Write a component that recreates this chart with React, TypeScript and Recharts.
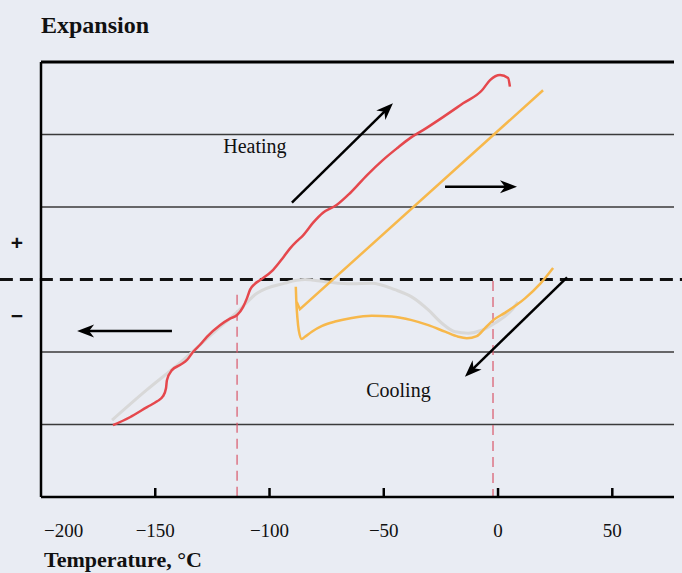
import { LineChart, Line, XAxis, YAxis, ReferenceLine, ReferenceDot } from 'recharts';

// temperature (°C) vs relative expansion
const heatingT = [-168.5, -161.1, -153.6, -149.2, -146.6, -145.3, -144.9, -142.7, -139.2, -136.1, -133.5, -130.4, -127.4, -121.7, -117.3, -114.2, -111.6, -109.9, -108.5, -106.4, -104.2, -98.5, -94.1, -91.0, -88.0, -85.3, -81.0, -76.6, -70.5, -64.8, -57.3, -50.3, -44.2, -38.5, -32.8, -24.1, -15.3, -7.0, -3.5, 0.9, 4.4, 5.2];
const heatingY = [-2.01, -1.90, -1.76, -1.68, -1.61, -1.50, -1.39, -1.25, -1.18, -1.11, -1.00, -0.90, -0.79, -0.63, -0.54, -0.49, -0.38, -0.26, -0.14, -0.06, -0.01, 0.13, 0.30, 0.43, 0.53, 0.61, 0.78, 0.92, 1.03, 1.19, 1.44, 1.65, 1.81, 1.95, 2.06, 2.24, 2.43, 2.61, 2.75, 2.82, 2.78, 2.66];

const coolingT = [-88.5, -88.3, -87.8, -87.2, -85.9, -84.5, -81.5, -77.0, -71.3, -64.0, -55.3, -46.5, -37.8, -30.5, -23.2, -17.4, -13.7, -9.3, -5.7, -2.1, 3.0, 11.8, 18.4, 24.1];
const coolingY = [-0.10, -0.28, -0.53, -0.70, -0.82, -0.79, -0.72, -0.64, -0.58, -0.53, -0.50, -0.51, -0.56, -0.63, -0.72, -0.79, -0.81, -0.78, -0.67, -0.56, -0.46, -0.26, -0.06, 0.16];

const diagT = [-88.1, -86.7, 19.7];
const diagY = [-0.31, -0.41, 2.61];

const refT = [-168.9, -153.6, -139.2, -124.7, -114.2, -105.5, -93.2, -88.0, -84.5, -75.7, -64.0, -55.3, -45.1, -37.8, -30.5, -24.7, -18.8, -13.0, -7.1, -1.3, 6.0, 8.7];
const refY = [-1.94, -1.52, -1.15, -0.74, -0.45, -0.19, -0.05, -0.01, 0.00, -0.03, -0.06, -0.05, -0.14, -0.24, -0.42, -0.60, -0.72, -0.74, -0.70, -0.60, -0.42, -0.31];

const xTicks = [-200, -150, -100, -50, 0, 50];
const gridY = [-2, -1, 1, 2];
const markT = [-114.2, -2.2];
const markTop = [-0.21, -0.02];

// arrows: [x1, y1, x2, y2], head at the second point
const arrows = [
  [-90.2, 1.06, -46.0, 2.43],
  [-23.2, 1.28, 8.3, 1.28],
  [-142.7, -0.71, -184.2, -0.71],
  [30.2, 0.03, -14.5, -1.34],
];

const zip = (xs: number[], ys: number[]) => xs.map((x, i) => ({ x, y: ys[i] }));
const heating = zip(heatingT, heatingY);
const cooling = zip(coolingT, coolingY);
const diag = zip(diagT, diagY);
const reference = zip(refT, refY);

const font = '"Liberation Serif", serif';
const fmt = (v: number) => (v < 0 ? '\u2212' + Math.abs(v) : String(v));

const XTick = (props: any) => {
  const { x, y, payload, index } = props;
  const first = index === 0;
  return (
    <g>
      {!first && <line x1={x} x2={x} y1={y} y2={y - 9} stroke="#000" strokeWidth={2.5} />}
      <text x={first ? x + 3 : x} y={y + 40} textAnchor={first ? 'start' : 'middle'} fontFamily={font} fontSize={19} fill="#111">
        {fmt(payload.value)}
      </text>
    </g>
  );
};

const YTick = (props: any) => {
  const { x, y, payload } = props;
  return (
    <text x={x - 24} y={y + 7} textAnchor="middle" fontFamily='"Liberation Sans", sans-serif' fontSize={21} fontWeight="bold" fill="#111">
      {payload.value > 0 ? '+' : '\u2212'}
    </text>
  );
};

const Arrow = (props: any) => {
  const { x1, y1, x2, y2 } = props;
  const ang = Math.atan2(y2 - y1, x2 - x1);
  const len = 17, half = 6.5, notch = 5;
  const ux = Math.cos(ang), uy = Math.sin(ang);
  const bx = x2 - ux * len, by = y2 - uy * len;
  const px = -uy, py = ux;
  const head = [
    [x2, y2],
    [bx + px * half, by + py * half],
    [x2 - ux * (len - notch), y2 - uy * (len - notch)],
    [bx - px * half, by - py * half],
  ].map((p) => p.join(',')).join(' ');
  return (
    <g>
      <line x1={x1} y1={y1} x2={x2 - ux * 8} y2={y2 - uy * 8} stroke="#000" strokeWidth={2.5} />
      <polygon points={head} fill="#000" />
    </g>
  );
};

const Note = (text: string) => (p: any) => (
  <text x={p.cx} y={p.cy} textAnchor="middle" fontFamily={font} fontSize={20} fill="#111">{text}</text>
);

export default function App() {
  return (
    <div style={{ position: 'absolute', left: 0, top: 0, width: 682, height: 573, background: '#e9ecf3' }}>
      <div style={{ position: 'absolute', left: 41, top: 13, fontFamily: font, fontSize: 24, lineHeight: '24px', fontWeight: 'bold', color: '#111' }}>
        Expansion
      </div>
      <div style={{ position: 'absolute', left: 44, top: 549, fontFamily: font, fontSize: 22, lineHeight: '22px', fontWeight: 'bold', color: '#111' }}>
        Temperature, °C
      </div>
      <LineChart width={682} height={573} margin={{ top: 62, right: 8, bottom: 46, left: 0 }}>
        <XAxis
          type="number"
          dataKey="x"
          domain={[-200, 77]}
          ticks={xTicks}
          allowDataOverflow
          height={30}
          tickSize={0}
          tickMargin={0}
          tickLine={false}
          axisLine={{ stroke: '#000', strokeWidth: 2.5 }}
          tick={<XTick />}
        />
        <YAxis
          type="number"
          domain={[-3, 3]}
          ticks={[0.5, -0.5]}
          allowDataOverflow
          width={41}
          tickSize={0}
          tickMargin={0}
          tickLine={false}
          axisLine={{ stroke: '#000', strokeWidth: 2.5 }}
          tick={<YTick />}
        />
        {gridY.map((v) => (
          <ReferenceLine key={v} y={v} stroke="#3a3a3a" strokeWidth={1.5} />
        ))}
        <ReferenceLine y={3} stroke="#000" strokeWidth={3} />
        {markT.map((t, i) => (
          <ReferenceLine
            key={t}
            segment={[{ x: t, y: markTop[i] }, { x: t, y: -3 }]}
            stroke="#d9576a"
            strokeWidth={1.2}
            strokeDasharray="10 6"
          />
        ))}
        <ReferenceLine
          segment={[{ x: -218, y: 0 }, { x: 81, y: 0 }]}
          ifOverflow="visible"
          stroke="#111"
          strokeWidth={2.8}
          strokeDasharray="13 7"
        />
        <Line data={reference} dataKey="y" type="monotone" stroke="#d8d8d8" strokeWidth={3} dot={false} isAnimationActive={false} />
        <Line data={diag} dataKey="y" type="linear" stroke="#f7b84b" strokeWidth={2.5} dot={false} isAnimationActive={false} />
        <Line data={cooling} dataKey="y" type="monotone" stroke="#f7b84b" strokeWidth={2.5} dot={false} isAnimationActive={false} />
        <Line data={heating} dataKey="y" type="monotone" stroke="#e5484d" strokeWidth={2.5} dot={false} isAnimationActive={false} />
        {arrows.map((a, i) => (
          <ReferenceLine key={i} segment={[{ x: a[0], y: a[1] }, { x: a[2], y: a[3] }]} ifOverflow="visible" shape={<Arrow />} />
        ))}
        <ReferenceDot x={-106.4} y={1.745} r={0} shape={Note('Heating')} />
        <ReferenceDot x={-43.6} y={-1.62} r={0} shape={Note('Cooling')} />
      </LineChart>
    </div>
  );
}
